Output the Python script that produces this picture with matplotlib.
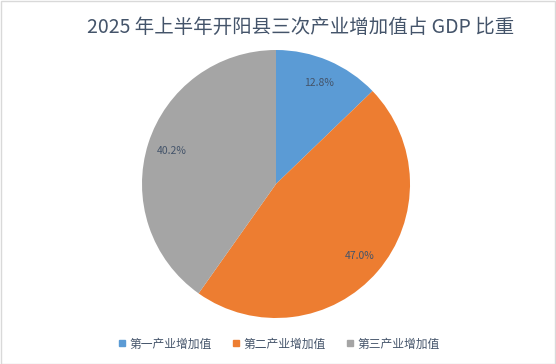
import matplotlib
matplotlib.use("Agg")
import matplotlib.pyplot as plt
from matplotlib.patches import Rectangle
from matplotlib.lines import Line2D

plt.rcParams["font.family"] = ["Noto Sans CJK SC", "DejaVu Sans"]

title = "2025 年上半年开阳县三次产业增加值占 GDP 比重"
categories = ["第一产业增加值", "第二产业增加值", "第三产业增加值"]
shares = [12.8, 47.0, 40.2]
colors = ["#5B9BD5", "#ED7D31", "#A5A5A5"]
text_color = "#44546A"

W, H = 556, 364
fig = plt.figure(figsize=(W / 100, H / 100), dpi=100)

# pie centre (276, 184) px, radius 134 px
cx, cy, r = 276, 184, 134
ax = fig.add_axes([(cx - r) / W, (H - cy - r) / H, 2 * r / W, 2 * r / H])
wedges, texts, autotexts = ax.pie(
    shares, colors=colors, startangle=90, counterclock=False,
    autopct="%.1f%%", pctdistance=0.82, radius=1.0,
    wedgeprops={"linewidth": 0},
    textprops={"fontsize": 7.5, "color": text_color},
)
ax.set_xlim(-1, 1)
ax.set_ylim(-1, 1)
ax.set_aspect("equal")
ax.axis("off")

fig.text(301 / W, 1 - 27 / H, title, ha="center", va="center",
         fontsize=14, color=text_color)

handles = [Line2D([], [], marker="s", linestyle="none", markersize=5,
                  markerfacecolor=c, markeredgecolor=c) for c in colors]
fig.legend(handles, categories, loc="center", ncol=3,
           bbox_to_anchor=(0.5, 1 - 344 / H), frameon=False,
           fontsize=8.5, labelcolor=text_color, handletextpad=0.1,
           columnspacing=1.6, handlelength=1.0)

fig.patches.append(Rectangle((0.5 / W, 0.5 / H), 1 - 1.5 / W, 1 - 1.5 / H,
                             transform=fig.transFigure, fill=False,
                             edgecolor="#D9D9D9", linewidth=1))

fig.savefig("out.png", dpi=100)
